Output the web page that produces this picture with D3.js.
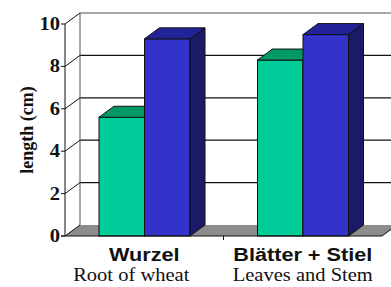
<!DOCTYPE html>
<html>
<head>
<meta charset="utf-8">
<script src="https://cdn.jsdelivr.net/npm/d3@7"></script>
<style>
  body { margin: 0; background: #fff; }
  svg { display: block; }
</style>
</head>
<body>
<script>
// data
const categories = ["Wurzel", "Blätter + Stiel"];
const subLabels = ["Root of wheat", "Leaves and Stem"];
const series = ["s1", "s2"];
const values = [
  [5.6, 9.3],   // Wurzel
  [8.3, 9.5]    // Blätter + Stiel
];
const yTicks = [0, 2, 4, 6, 8, 10];

const w = 391, h = 287;
const dx = 15, dy = -11;   // 3d depth
const sx = 1.14;           // the text looks stretched sideways

const colors = { s1: "#00cc99", s2: "#3333cc" };
const tops = { s1: "#009966", s2: "#222299" };
const sides = { s1: "#006644", s2: "#1a1a66" };
const serif = "Liberation Serif, Times New Roman, serif";
const sans = "Liberation Sans, Arial, sans-serif";

const svg = d3.select("body").append("svg")
  .attr("width", w)
  .attr("height", h);

const y = d3.scaleLinear().domain([0, 10]).range([236, 24]);
const x = d3.scaleBand().domain(categories).range([65, 382]);
const xs = d3.scaleBand().domain(series).range([34, 125]);

// floor
const y0 = y(0);
svg.append("polygon")
  .attr("points", [[65, y0], [382, y0], [382 + dx, y0 + dy], [65 + dx, y0 + dy]].join(" "))
  .attr("fill", "#8c8c8c");

// back wall gridlines
svg.selectAll(".grid")
  .data(yTicks.filter(d => d > 0))
  .enter()
  .append("line")
  .attr("x1", 65 + dx)
  .attr("x2", w)
  .attr("y1", d => y(d) + dy)
  .attr("y2", d => y(d) + dy)
  .attr("stroke", d => d == 10 ? "#555" : "#111")
  .attr("stroke-width", 1.2);

// back wall left edge
svg.append("line")
  .attr("x1", 65 + dx).attr("x2", 65 + dx)
  .attr("y1", y(0) + dy).attr("y2", y(10) + dy)
  .attr("stroke", "#555");

// side wall diagonals + ticks
svg.selectAll(".diag")
  .data(yTicks)
  .enter()
  .append("line")
  .attr("x1", 65).attr("x2", 65 + dx)
  .attr("y1", d => y(d)).attr("y2", d => y(d) + dy)
  .attr("stroke", "#111");

svg.selectAll(".tick")
  .data(yTicks)
  .enter()
  .append("line")
  .attr("x1", 61).attr("x2", 65)
  .attr("y1", d => y(d)).attr("y2", d => y(d))
  .attr("stroke", "#111");

// front axis line
svg.append("line")
  .attr("x1", 65).attr("x2", 65)
  .attr("y1", y(0)).attr("y2", y(10))
  .attr("stroke", "#111");

// tick labels
svg.selectAll(".ylab")
  .data(yTicks)
  .enter()
  .append("text")
  .attr("transform", d => `translate(60,${y(d) + 6}) scale(${sx},1)`)
  .attr("text-anchor", "end")
  .attr("font-family", serif)
  .attr("font-weight", "bold")
  .attr("font-size", 18)
  .attr("fill", "#111")
  .text(d => d);

// axis title
svg.append("text")
  .attr("transform", "translate(33,130) rotate(-90)")
  .attr("text-anchor", "middle")
  .attr("font-family", serif)
  .attr("font-weight", "bold")
  .attr("font-size", 18)
  .attr("fill", "#111")
  .text("length (cm)");

// bars
const bars = [];
categories.forEach((c, i) => {
  series.forEach((s, j) => {
    bars.push({ c: c, s: s, v: values[i][j] });
  });
});

const g = svg.selectAll(".bar")
  .data(bars)
  .enter()
  .append("g");

g.append("rect")
  .attr("x", d => x(d.c) + xs(d.s))
  .attr("y", d => y(d.v))
  .attr("width", xs.bandwidth())
  .attr("height", d => y(0) - y(d.v))
  .attr("fill", d => colors[d.s])
  .attr("stroke", "#111")
  .attr("stroke-width", 1);

g.append("polygon")
  .attr("points", d => {
    const x0 = x(d.c) + xs(d.s), x1 = x0 + xs.bandwidth(), yt = y(d.v);
    return [[x0, yt], [x1, yt], [x1 + dx, yt + dy], [x0 + dx, yt + dy]].join(" ");
  })
  .attr("fill", d => tops[d.s])
  .attr("stroke", "#111")
  .attr("stroke-width", 1);

g.append("polygon")
  .attr("points", d => {
    const x1 = x(d.c) + xs(d.s) + xs.bandwidth(), yt = y(d.v), yb = y(0);
    return [[x1, yt], [x1 + dx, yt + dy], [x1 + dx, yb + dy], [x1, yb]].join(" ");
  })
  .attr("fill", d => sides[d.s])
  .attr("stroke", "#111")
  .attr("stroke-width", 1);

// front baseline
svg.append("line")
  .attr("x1", 61).attr("x2", 382)
  .attr("y1", y0).attr("y2", y0)
  .attr("stroke", "#111");
svg.append("line")
  .attr("x1", 382).attr("x2", 382 + dx)
  .attr("y1", y0).attr("y2", y0 + dy)
  .attr("stroke", "#111");
svg.append("line")
  .attr("x1", x(categories[1])).attr("x2", x(categories[1]))
  .attr("y1", y0).attr("y2", y0 + 4)
  .attr("stroke", "#111");

// category labels
svg.selectAll(".cat")
  .data(categories)
  .enter()
  .append("text")
  .attr("transform", d => `translate(${x(d) + x.bandwidth() / 2},261) scale(${sx},1)`)
  .attr("text-anchor", "middle")
  .attr("font-family", sans)
  .attr("font-weight", "bold")
  .attr("font-size", 19)
  .attr("fill", "#111")
  .text(d => d);

svg.selectAll(".sub")
  .data(subLabels)
  .enter()
  .append("text")
  .attr("transform", (d, i) => `translate(${x(categories[i]) + x.bandwidth() / 2 - (i == 0 ? 13 : 0)},281) scale(${sx},1)`)
  .attr("text-anchor", "middle")
  .attr("font-family", serif)
  .attr("font-size", 18)
  .attr("fill", "#111")
  .text(d => d);
</script>
</body>
</html>
